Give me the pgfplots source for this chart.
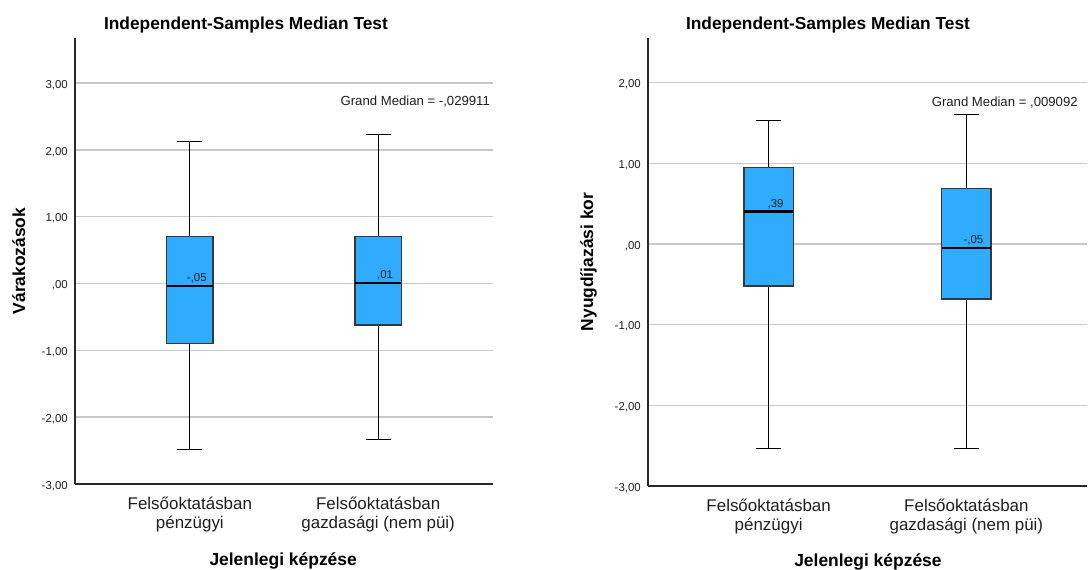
\documentclass[border=0pt]{standalone}
\usepackage{fontspec}
\setmainfont{Liberation Sans}
\usepackage{pgfplots}
\pgfplotsset{compat=1.18}
\usepgfplotslibrary{statistics}
\definecolor{boxblue}{RGB}{48,172,255}
\definecolor{boxedge}{RGB}{55,55,55}
\definecolor{gridgray}{RGB}{200,200,200}
\definecolor{axisgray}{RGB}{40,40,40}
\definecolor{txt}{RGB}{30,30,30}

\tikzset{
  medlab/.style={anchor=south, inner sep=0pt, xshift=7bp, yshift=3bp,
    font=\fontsize{11.5}{12}\selectfont, text=txt},
  gmlab/.style={inner sep=0pt, font=\fontsize{13.2}{14}\selectfont, text=txt},
}

\pgfplotsset{
  every axis title/.style={anchor=base, font=\bfseries\fontsize{17.4}{20}\selectfont, text=black},
  spss/.style={
    scale only axis,
    anchor=south west,
    xmin=0.39, xmax=2.61,
    ymin=-3,
    xtick={1,2},
    xticklabels={{Felsőoktatásban\\pénzügyi},{Felsőoktatásban\\gazdasági (nem püi)}},
    xticklabel style={align=center, anchor=north, inner sep=0pt, yshift=-13bp,
      font=\fontsize{17}{18.5}\selectfont, text=txt},
    yticklabel style={anchor=east, inner sep=0pt, xshift=-7bp, yshift=-2bp,
      font=\fontsize{11.5}{12}\selectfont, text=txt},
    major tick length=0pt,
    axis x line*=bottom, axis y line*=left,
    axis line style={-, axisgray, line width=1.5bp},
    ymajorgrids,
    grid style={gridgray, line width=1.5bp},
    clip=false,
    title={Independent-Samples Median Test},
    xlabel={Jelenlegi képzése},
    xlabel style={anchor=base, font=\bfseries\fontsize{17.5}{20}\selectfont, text=black},
    ylabel style={anchor=base, font=\bfseries\fontsize{17.5}{20}\selectfont, text=black},
    boxplot/draw direction=y,
    boxplot/every box/.style={draw=boxedge, line width=1.3bp, fill=boxblue},
    boxplot/every whisker/.style={black, line width=1bp},
    boxplot/every median/.style={black, line width=2.5bp},
  },
}

\begin{document}
\begin{tikzpicture}
% ---------------- left panel ----------------
\begin{axis}[spss,
  at={(75bp,86bp)}, width=418bp, height=446bp,
  ymax=3.673,
  ytick={-3,-2,-1,0,1,2,3},
  yticklabels={{-3,00},{-2,00},{-1,00},{,00},{1,00},{2,00},{3,00}},
  title style={at={(axis description cs:0.409,1.019)}},
  xlabel style={at={(axis description cs:0.498,-0.182)}},
  ylabel={Várakozások},
  ylabel style={at={(axis description cs:-0.1196,0.5)}},
]
\addplot[boxplot prepared={median=-0.04, upper quartile=0.70, lower quartile=-0.90,
  upper whisker=2.13, lower whisker=-2.49, draw position=1,
  box extend=0.245, whisker extend=0.133}] coordinates {};
\addplot[boxplot prepared={median=0.01, upper quartile=0.70, lower quartile=-0.62,
  upper whisker=2.23, lower whisker=-2.33, draw position=2,
  box extend=0.245, whisker extend=0.133}] coordinates {};
\node[medlab] at (axis cs:1,-0.04) {-,05};
\node[medlab] at (axis cs:2,0.01) {,01};
\node[gmlab, anchor=east] at (rel axis cs:0.993,0.8565) {Grand Median = -,029911};
\end{axis}
% ---------------- right panel ----------------
\begin{axis}[spss,
  at={(648bp,84bp)}, width=439bp, height=448bp,
  ymax=2.554,
  ytick={-3,-2,-1,0,1,2},
  yticklabels={{-3,00},{-2,00},{-1,00},{,00},{1,00},{2,00}},
  title style={at={(axis description cs:0.41,1.019)}},
  xlabel style={at={(axis description cs:0.501,-0.179)}},
  ylabel={Nyugdíjazási kor},
  ylabel style={at={(axis description cs:-0.125,0.5)}},
]
\addplot[boxplot prepared={median=0.40, upper quartile=0.95, lower quartile=-0.52,
  upper whisker=1.53, lower whisker=-2.53, draw position=1,
  box extend=0.25, whisker extend=0.125}] coordinates {};
\addplot[boxplot prepared={median=-0.05, upper quartile=0.69, lower quartile=-0.68,
  upper whisker=1.60, lower whisker=-2.53, draw position=2,
  box extend=0.25, whisker extend=0.125}] coordinates {};
\node[medlab] at (axis cs:1,0.40) {,39};
\node[medlab] at (axis cs:2,-0.05) {-,05};
\node[gmlab, anchor=west, overlay] at (rel axis cs:0.646,0.8556) {Grand Median = ,009092};
\end{axis}
\pgfresetboundingbox
\path[use as bounding box] (0,0) rectangle (1088bp,570bp);
\end{tikzpicture}
\end{document}
